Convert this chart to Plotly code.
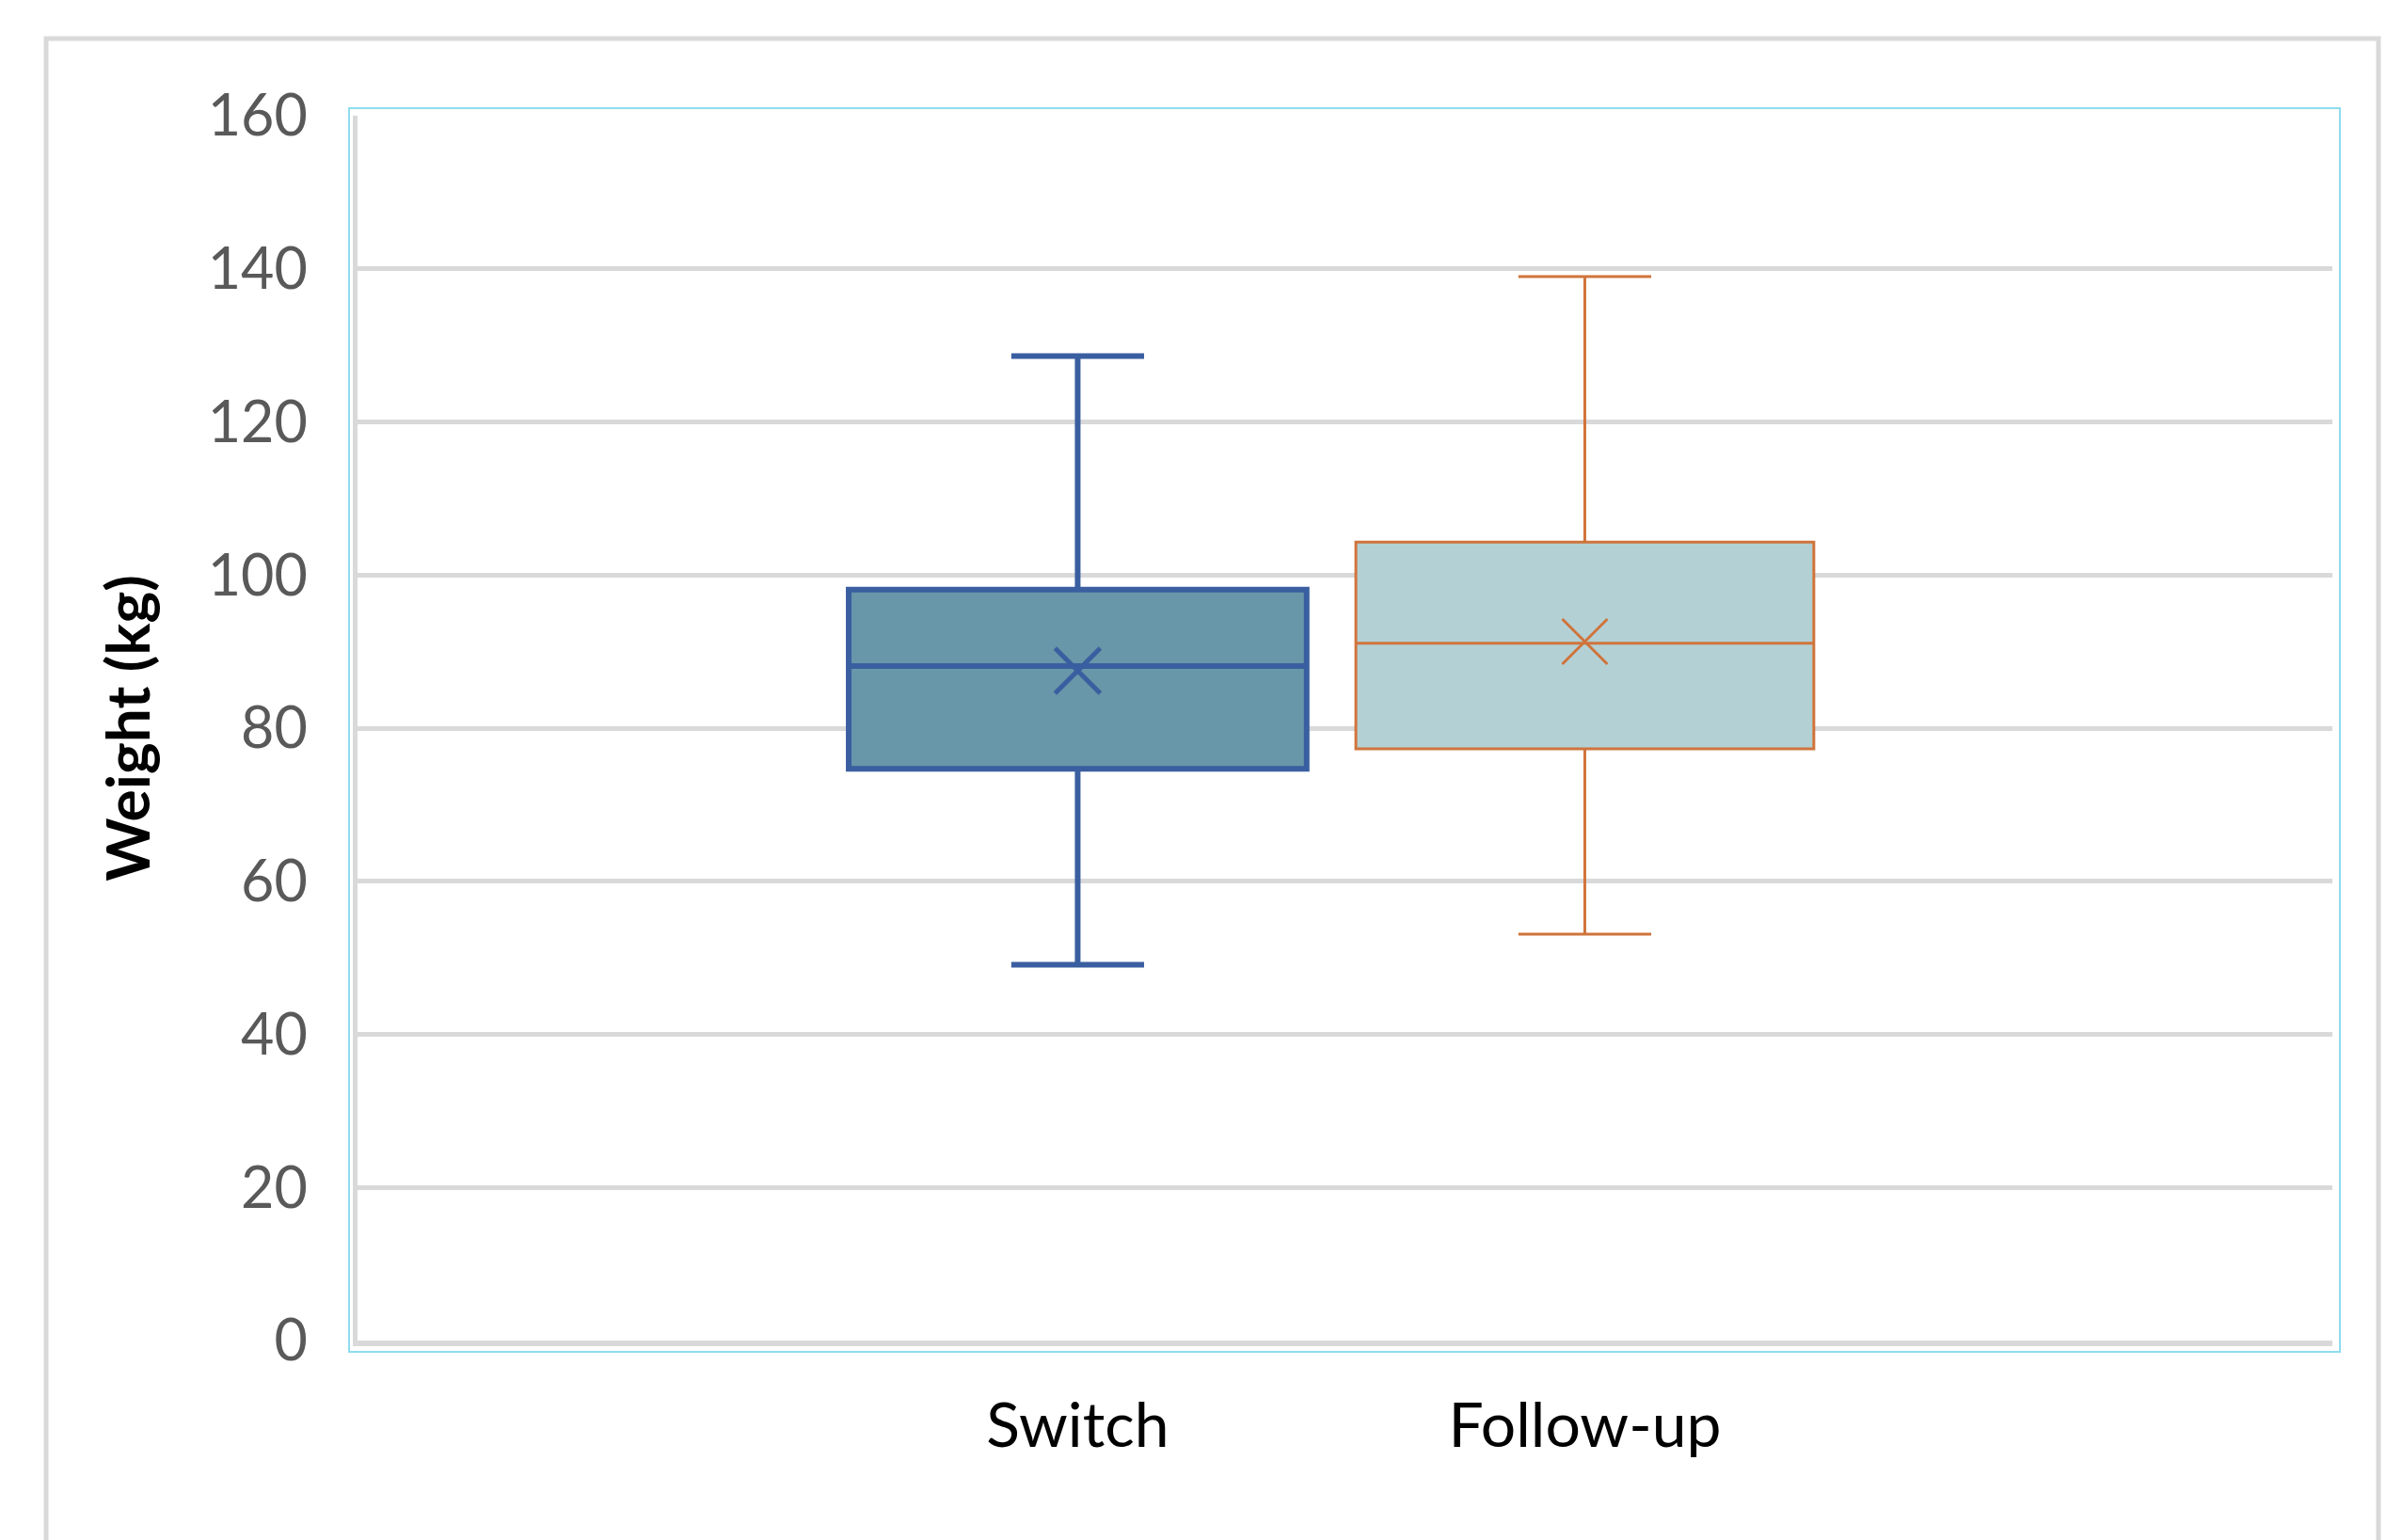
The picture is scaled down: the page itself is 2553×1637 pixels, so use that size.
import plotly.graph_objects as go

categories = ["Switch", "Follow-up"]
lower_fence = [49.1, 53.1]
q1 = [74.7, 77.3]
median = [88.1, 91.1]
q3 = [98.1, 104.3]
upper_fence = [128.6, 139.0]
mean = [87.5, 91.3]
y_ticks = [0, 20, 40, 60, 80, 100, 120, 140, 160]

fills = ["#6897A9", "#B3D1D5"]
lines = ["#3A5FA0", "#D0743C"]
line_widths = [6, 3]
mean_widths = [5, 3]

FONT = "Lato"

# page has an 8px body margin; work in page coordinates and subtract it
OFF = 8
W, H = 2553 - OFF, 1637 - OFF
plot_left, plot_top, plot_right, plot_bottom = 380, 123, 2479, 1425
ml = plot_left - OFF
mt = plot_top - OFF
pw = plot_right - plot_left
ph = plot_bottom - plot_top
mr = W - ml - pw
mb = H - mt - ph

def px(x):
    return (x - plot_left) / pw

def py(y):
    return (plot_bottom - y) / ph

fig = go.Figure()
for i, cat in enumerate(categories):
    fig.add_trace(go.Box(
        x=[cat], q1=[q1[i]], median=[median[i]], q3=[q3[i]],
        lowerfence=[lower_fence[i]], upperfence=[upper_fence[i]],
        width=0.903, whiskerwidth=0.29,
        fillcolor=fills[i], line=dict(color=lines[i], width=line_widths[i]),
        boxpoints=False, hoverinfo="skip", name=cat,
    ))
    fig.add_trace(go.Scatter(
        x=[cat], y=[mean[i]], mode="markers",
        marker=dict(symbol="x-thin", size=48,
                    line=dict(color=lines[i], width=mean_widths[i])),
        hoverinfo="skip", name=cat + " mean",
    ))

fig.update_layout(
    width=W, height=H,
    margin=dict(l=ml, r=mr, t=mt, b=mb),
    paper_bgcolor="white", plot_bgcolor="white",
    showlegend=False, boxmode="overlay",
    font=dict(family=FONT),
    shapes=[
        dict(type="rect", xref="paper", yref="paper",
             x0=px(49), x1=px(2528), y0=py(1800), y1=py(41),
             line=dict(color="#D9D9D9", width=5), layer="below"),
        dict(type="rect", xref="paper", yref="paper",
             x0=px(371), x1=px(2487), y0=py(1437), y1=py(115),
             line=dict(color="#8EDCF0", width=2), layer="above"),
    ],
)
fig.update_yaxes(
    range=[0, 160], tickvals=y_ticks,
    showgrid=True, gridcolor="#D9D9D9", gridwidth=5,
    showline=True, linecolor="#D9D9D9", linewidth=5,
    zeroline=False, ticks="", ticklabelstandoff=36,
    tickfont=dict(family=FONT, size=61, color="#595959"),
    title=dict(text="<b>Weight (kg)</b>", standoff=42,
               font=dict(family=FONT, size=64, color="black")),
)
fig.update_xaxes(
    type="category", categoryorder="array", categoryarray=categories,
    range=[-1.42, 2.474],
    showgrid=False, showline=True, linecolor="#D9D9D9", linewidth=6,
    zeroline=False, ticks="", ticklabelstandoff=28,
    tickfont=dict(family=FONT, size=66, color="black"),
)

fig.write_html("out.html")
